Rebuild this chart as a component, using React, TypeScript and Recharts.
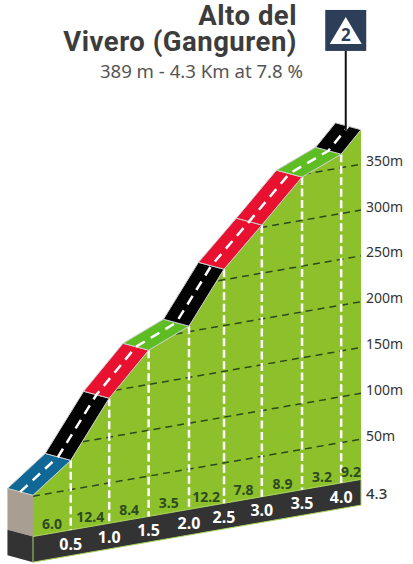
import React from "react";
import { ComposedChart, Area, Scatter, XAxis, YAxis } from "recharts";

// distance stations along the drawn axis (km)
const stationKm = [0, 0.495, 0.999, 1.516, 2.045, 2.504, 3.0, 3.527, 4.04, 4.3];
// elevation at each station (m)
const stationElev = [51, 82, 142.5, 187.4, 206, 261.5, 302.5, 347.2, 364.8, 387.7];
// ground levels of the bottom strip (m)
const baseElev = 6;
const stripElev = -22;
// road colour of each stretch
const roadColors = ["#0f6896", "#030303", "#e8112f", "#5fbd24", "#030303", "#e8112f", "#e8112f", "#5fbd24", "#030303"];
// kilometre labels
const kmLabels = ["0.5", "1.0", "1.5", "2.0", "2.5", "3.0", "3.5", "4.0"];
const kmLabelIdx = [1, 2, 3, 4, 5, 6, 7, 8];
const kmLabelElev = -9;
// gradient labels
const gradeLabels = ["6.0", "12.4", "8.4", "3.5", "12.2", "7.8", "8.9", "3.2", "9.2"];
const gradeLabelKm = [0.25, 0.75, 1.26, 1.78, 2.27, 2.76, 3.27, 3.79, 4.17];
const gradeLabelElev = 17;
// elevation grid
const gridElev = [50, 100, 150, 200, 250, 300, 350];
const gridStartKm = [0, 0.65, 1.07, 1.87, 2.43, 2.98, 3.55];
const totalLabel = "4.3";
// summit marker (positions on the sheared plane)
const poleKm = 4.1;
const poleTop = 536;
const poleBottom = 449;
const categoryLabel = "2";

// the drawing is sheared: every km lifts the plane by this many metres
const SHEAR = 14.49;
const BACK_X = -0.335;
const BACK_Y = 7.5;
const P = (km: number, elev: number) => ({ x: km, y: elev + SHEAR * km });

const front = stationKm.map((k, i) => P(k, stationElev[i]));
const back = front.map((p) => ({ x: p.x + BACK_X, y: p.y + BACK_Y }));
const center = front.map((p) => ({ x: p.x + BACK_X / 2, y: p.y + BACK_Y / 2 }));

const terrain = stationKm.map((k, i) => ({
  x: k,
  band: [baseElev + SHEAR * k, front[i].y],
}));

const backOf = (p: { x: number; y: number }) => ({ x: p.x + BACK_X, y: p.y + BACK_Y });
const wall = [P(0, stationElev[0]), P(0, baseElev), backOf(P(0, baseElev)), backOf(P(0, stationElev[0]))];
const stripSide = [P(0, baseElev), P(0, stripElev), backOf(P(0, stripElev)), backOf(P(0, baseElev))];
const strip = [P(0, baseElev), P(4.3, baseElev), P(4.3, stripElev), P(0, stripElev)];

const FONT = "'Noto Sans', sans-serif";

const poly = (fill: string, stroke = "none", sw = 1) => (props: any) => (
  <polygon
    points={props.points.map((p: any) => `${p.x ?? p.cx},${p.y ?? p.cy}`).join(" ")}
    fill={fill}
    stroke={stroke}
    strokeWidth={sw}
    strokeLinejoin="round"
  />
);
const path = (stroke: string, sw: number, dash: string) => (props: any) => (
  <polyline
    points={props.points.map((p: any) => `${p.x ?? p.cx},${p.y ?? p.cy}`).join(" ")}
    fill="none"
    stroke={stroke}
    strokeWidth={sw}
    strokeDasharray={dash}
  />
);
const noDot = () => <g />;

const textShape = (fill: string, size: number, weight: number | string, anchor: string, dx = 0) => (props: any) => (
  <text
    x={props.cx + dx}
    y={props.cy}
    fill={fill}
    fontSize={size}
    fontWeight={weight}
    fontFamily={FONT}
    textAnchor={anchor as any}
    dominantBaseline="central"
  >
    {props.payload.label}
  </text>
);

const markerShape = (props: any) => {
  const { cx, cy } = props;
  return (
    <g>
      <rect x={cx - 20.5} y={cy - 41} width={41} height={41} fill="#2d3f58" />
      <polygon
        points={`${cx},${cy - 34} ${cx + 16},${cy - 7} ${cx - 16},${cy - 7}`}
        fill="#ffffff"
      />
      <text x={cx} y={cy - 10} textAnchor="middle" fontSize={17} fontWeight={700} fill="#2d3f58" fontFamily={FONT}>
        {categoryLabel}
      </text>
    </g>
  );
};

const yTicks = gridElev.map((e) => e + SHEAR * 4.3);
const YTick = (props: any) => (
  <text x={366} y={props.y - 4} fill="#333" fontSize={14} fontFamily={FONT} dominantBaseline="central">
    {Math.round(props.payload.value - SHEAR * 4.3)}m
  </text>
);

export default function App() {
  return (
    <div style={{ position: "absolute", left: 0, top: 0, width: 413, height: 564, background: "#fff" }}>
      <ComposedChart
        width={413}
        height={564}
        data={terrain}
        margin={{ top: 0, right: 0, bottom: 0, left: 0 }}
      >
        <XAxis dataKey="x" type="number" domain={[-0.4326, 4.3]} hide />
        <YAxis
          dataKey="y"
          type="number"
          orientation="right"
          width={52}
          domain={[-24, 591.6]}
          ticks={yTicks}
          tick={YTick}
          tickLine={false}
          axisLine={false}
          interval={0}
        />
        <Area
          dataKey="band"
          type="linear"
          fill="#8cc12c"
          fillOpacity={1}
          stroke="#a9d25e"
          strokeWidth={1}
          isAnimationActive={false}
        />
        <Scatter data={wall} line={poly("#a89e92")} shape={noDot} isAnimationActive={false} />
        <Scatter data={stripSide} line={poly("#333333")} shape={noDot} isAnimationActive={false} />
        <Scatter data={strip} line={poly("#333333", "#a9d25e", 1)} shape={noDot} isAnimationActive={false} />
        {gridElev.map((e, i) => (
          <Scatter
            key={"g" + e}
            data={[P(gridStartKm[i], e), P(4.3, e)]}
            line={path("#2c4a1b", 1.5, "7 5")}
            shape={noDot}
            isAnimationActive={false}
          />
        ))}
        {kmLabelIdx.map((idx) => (
          <Scatter
            key={"v" + idx}
            data={[front[idx], P(stationKm[idx], baseElev)]}
            line={path("#ffffff", 2.5, "8 3.5")}
            shape={noDot}
            isAnimationActive={false}
          />
        ))}
        {roadColors.map((c, i) => (
          <Scatter
            key={"r" + i}
            data={[front[i], front[i + 1], back[i + 1], back[i]]}
            line={poly(c, "#cfcfcf", 1)}
            shape={noDot}
            isAnimationActive={false}
          />
        ))}
        <Scatter data={center} line={path("#ffffff", 2.5, "10 7")} shape={noDot} isAnimationActive={false} />
        <Scatter
          data={[
            { x: poleKm, y: poleTop },
            { x: poleKm, y: poleBottom },
          ]}
          line={path("#111111", 2, "none")}
          shape={noDot}
          isAnimationActive={false}
        />
        <Scatter data={[{ x: poleKm, y: poleTop }]} shape={markerShape} isAnimationActive={false} />
        <Scatter
          data={kmLabelIdx.map((idx, i) => ({ ...P(stationKm[idx], kmLabelElev), label: kmLabels[i] }))}
          shape={textShape("#ffffff", 16, 700, "middle")}
          isAnimationActive={false}
        />
        <Scatter
          data={gradeLabels.map((l, i) => ({ ...P(gradeLabelKm[i], gradeLabelElev), label: l }))}
          shape={textShape("#2f4a20", 14, 700, "middle")}
          isAnimationActive={false}
        />
        <Scatter
          data={[{ ...P(4.3, kmLabelElev), label: totalLabel }]}
          shape={textShape("#333333", 15, 500, "start", 5)}
          isAnimationActive={false}
        />
      </ComposedChart>
      <div style={{ position: "absolute", right: 116, top: 3, textAlign: "right", fontFamily: "Roboto, sans-serif", fontWeight: 700, fontSize: 27.5, letterSpacing: 0.5, lineHeight: "26px", color: "#3c3c3c", whiteSpace: "nowrap" }}>
        Alto del
        <br />
        Vivero (Ganguren)
      </div>
      <div style={{ position: "absolute", right: 110, top: 59, fontFamily: FONT, fontSize: 18.6, lineHeight: "24px", color: "#555", whiteSpace: "nowrap" }}>
        389 m - 4.3 Km at 7.8 %
      </div>
    </div>
  );
}
